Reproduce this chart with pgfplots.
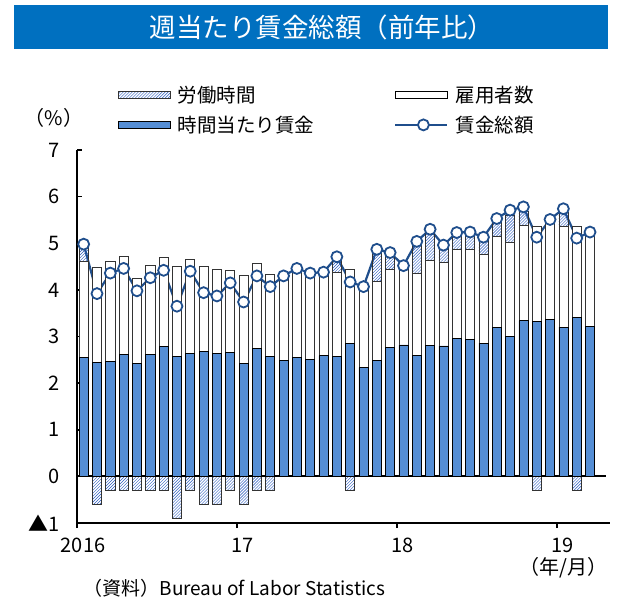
\documentclass[border=0pt]{standalone}
\usepackage{pgfplots}
\pgfplotsset{compat=1.18}
\usepackage{pgfplotstable}
\usepackage{fontspec}
\setmainfont{Noto Sans CJK JP}
\usetikzlibrary{patterns}

\definecolor{bandblue}{RGB}{0,112,192}
\definecolor{barblue}{RGB}{85,142,213}
\definecolor{linecol}{RGB}{31,78,140}
\definecolor{hatchcol}{RGB}{40,90,190}

% m: month index from 2016-01; hw: hourly wage, emp: employment, hrs: hours, tot: total (y/y %)
\pgfplotstableread{
m  hw    emp   hrs   tot
0  2.56  2.06  0.3   4.98
1  2.44  2.05  -0.6  3.92
2  2.46  2.15  -0.3  4.36
3  2.62  2.09  -0.3  4.46
4  2.42  1.82  -0.3  3.98
5  2.61  1.91  -0.3  4.26
6  2.78  1.91  -0.3  4.42
7  2.57  1.94  -0.9  3.65
8  2.64  2.02  -0.3  4.40
9  2.68  1.83  -0.6  3.94
10 2.64  1.80  -0.6  3.87
11 2.66  1.77  -0.3  4.15
12 2.42  1.89  -0.6  3.74
13 2.74  1.83  -0.3  4.30
14 2.57  1.77  -0.3  4.07
15 2.49  1.81  0     4.30
16 2.56  1.89  0     4.46
17 2.51  1.85  0     4.36
18 2.59  1.79  0     4.38
19 2.58  1.79  0.3   4.71
20 2.86  1.58  -0.3  4.17
21 2.33  1.74  0     4.07
22 2.49  1.70  0.6   4.87
23 2.76  1.68  0.3   4.80
24 2.82  1.70  0     4.52
25 2.59  1.77  0.6   5.04
26 2.81  1.82  0.6   5.30
27 2.80  1.80  0.3   4.96
28 2.96  1.90  0.3   5.23
29 2.94  1.93  0.3   5.24
30 2.86  1.91  0.3   5.13
31 3.20  1.94  0.3   5.53
32 3.00  2.01  0.6   5.71
33 3.34  2.05  0.3   5.78
34 3.33  2.04  -0.3  5.13
35 3.36  2.14  0     5.51
36 3.20  2.16  0.3   5.74
37 3.41  1.95  -0.3  5.11
38 3.21  2.02  0     5.24
}\wagedata

\begin{document}
\begin{tikzpicture}
% page layout in reference pixels: (x,-y) from the top-left corner
\begin{scope}[x=1bp, y=1bp, shift={(-77bp,523bp)}]
\path[use as bounding box] (0,0) rectangle (622,-598);
\fill[bandblue] (14,-5) rectangle (608,-49);
\node[text=white, font=\fontsize{26.5bp}{29bp}\selectfont] at (322,-27) {週当たり賃金総額（前年比）};
\node[font=\fontsize{20bp}{22bp}\selectfont] at (54,-118) {（\%）};
\node[anchor=east, font=\fontsize{20bp}{22bp}\selectfont] at (611,-568) {（年/月）};
\node[anchor=west, font=\fontsize{19bp}{21bp}\selectfont] at (80,-588) {（資料）Bureau of Labor Statistics};
\end{scope}

\begin{axis}[
  anchor=south west,
  scale only axis, width=533bp, height=373bp,
  ybar stacked, bar width=0.68,
  xmin=-0.5, xmax=39.5, ymin=-1, ymax=7,
  enlargelimits=false,
  axis lines*=left,
  axis line style={line width=1.6bp, black},
  xtick={-0.5,11.5,23.5,35.5},
  xticklabels={2016,17,18,19},
  ytick={-1,0,...,7},
  yticklabels={▲1,0,1,2,3,4,5,6,7},
  tick align=inside,
  major tick length=5bp,
  tick style={line width=1.6bp, black},
  x tick style={yshift=-5bp},
  /pgf/number format/assume math mode=true,
  ticklabel style={font=\fontsize{20bp}{22bp}\selectfont},
  yticklabel style={inner sep=0pt, xshift=-17bp},
  xticklabel style={inner sep=0pt, yshift=-15bp, xshift=6bp},
  legend columns=2,
  legend cell align=left,
  legend style={draw=none, fill=none, inner sep=0pt,
    at={(axis description cs:0.077,1.172)}, anchor=north west,
    font=\fontsize{19.5bp}{22bp}\selectfont,
    nodes={inner sep=0pt},
    column sep=7bp, row sep=12bp,
    /tikz/every even column/.append style={column sep=80bp}},
]
\addlegendimage{legend image code/.code={\draw[draw=black!80, line width=0.6bp, pattern=north east lines, pattern color=hatchcol] (0bp,-3.5bp) rectangle (52bp,3.5bp);}}
\addlegendentry{労働時間}
\addlegendimage{legend image code/.code={\draw[draw=black, line width=0.6bp, fill=white] (0bp,-3.5bp) rectangle (52bp,3.5bp);}}
\addlegendentry{雇用者数}
\addlegendimage{legend image code/.code={\draw[draw=black, line width=0.6bp, fill=barblue] (0bp,-3.5bp) rectangle (52bp,3.5bp);}}
\addlegendentry{時間当たり賃金}
\addlegendimage{legend image code/.code={\draw[linecol, line width=2.2bp] (0bp,0bp) -- (52bp,0bp); \draw[linecol, line width=1.8bp, fill=white] (28bp,0bp) circle (5.5bp);}}
\addlegendentry{賃金総額}

\addplot[fill=barblue, draw=black, line width=0.6bp, forget plot]
  table[x=m, y=hw] {\wagedata};
\addplot[fill=white, draw=black!80, line width=0.6bp, forget plot]
  table[x=m, y=emp] {\wagedata};
\addplot[pattern=north east lines, pattern color=hatchcol, draw=black!80, line width=0.6bp, forget plot]
  table[x=m, y expr={max(\thisrow{hrs},0)}] {\wagedata};
\addplot[stack plots=false, pattern=north east lines, pattern color=hatchcol, draw=black!80, line width=0.6bp, forget plot]
  table[x=m, y expr={min(\thisrow{hrs},0)}] {\wagedata};

\draw[line width=2bp, black] (axis cs:-0.5,0) -- (axis cs:39.2,0);

\addplot[stack plots=false, sharp plot, linecol, line width=2.2bp,
  mark=*, mark size=5.5bp, mark options={fill=white, draw=linecol, line width=1.8bp}, forget plot]
  table[x=m, y=tot] {\wagedata};
\end{axis}
\end{tikzpicture}
\end{document}
